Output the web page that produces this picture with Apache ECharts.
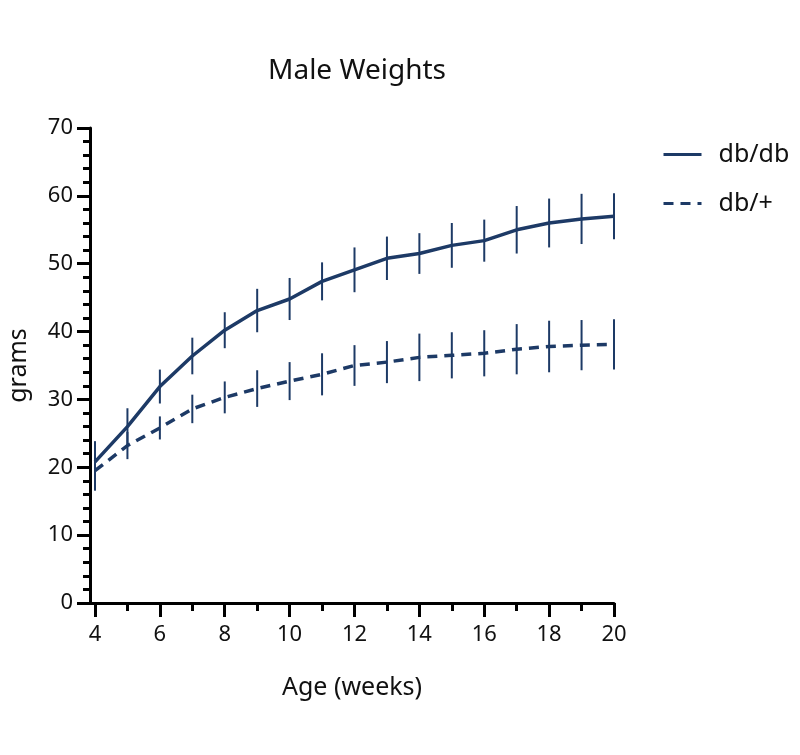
<!DOCTYPE html>
<html>
<head>
<meta charset="utf-8">
<script src="https://cdn.jsdelivr.net/npm/echarts@6/dist/echarts.min.js"></script>
<style>html,body{margin:0;padding:0;background:#fff}#chart{width:800px;height:755px}</style>
</head>
<body>
<div id="chart"></div>
<script>
const weeks = [4,5,6,7,8,9,10,11,12,13,14,15,16,17,18,19,20];
const dbdbMean = [20.8,26.0,31.9,36.4,40.2,43.1,44.8,47.4,49.1,50.8,51.5,52.7,53.4,55.0,56.0,56.6,57.0];
const dbdbErr  = [3.05,2.7,2.5,2.7,2.65,3.2,3.1,2.8,3.3,3.2,3.0,3.3,3.1,3.5,3.6,3.7,3.4];
const dbplusMean = [19.5,23.2,25.8,28.6,30.3,31.6,32.7,33.7,35.0,35.5,36.2,36.5,36.8,37.4,37.8,38.0,38.1];
const dbplusErr  = [2.95,2.0,1.7,2.1,2.35,2.7,2.8,3.1,3.0,3.1,3.5,3.4,3.4,3.7,3.8,3.7,3.7];
const xMajorTicks = [4,6,8,10,12,14,16,18,20];
const xMinorTicks = [5,7,9,11,13,15,17,19];
const seriesNames = ['db/db','db/+'];

const COLOR = '#1d3a66';
const FONT = 'Noto Sans';

function errData(mean, err){
  return weeks.map((w,i)=>[w, mean[i]-err[i], mean[i]+err[i]]);
}
function errSeries(mean, err){
  return {
    type:'custom',
    data: errData(mean, err),
    z: 3,
    silent: true,
    renderItem: function(params, api){
      const lo = api.coord([api.value(0), api.value(1)]);
      const hi = api.coord([api.value(0), api.value(2)]);
      return {type:'line', shape:{x1:lo[0],y1:lo[1],x2:hi[0],y2:hi[1]}, style:{stroke:COLOR, lineWidth:2}};
    }
  };
}

const chart = echarts.init(document.getElementById('chart'));
chart.setOption({
  animation:false,
  textStyle:{fontFamily:FONT},
  title:{text:'Male Weights', left:352, top:52, textAlign:'center',
    textStyle:{fontFamily:FONT, fontSize:28, fontWeight:'normal', color:'#111'}},
  legend:{
    orient:'vertical', left:657, top:137, itemWidth:38, itemHeight:16, itemGap:24,
    data: seriesNames,
    itemStyle:{opacity:0},
    lineStyle:{width:3},
    textStyle:{fontFamily:FONT, fontSize:25, color:'#111', padding:[0,0,0,12]}
  },
  grid:{left:90, right:186, top:128, bottom:152, containLabel:false, outerBoundsMode:'none'},
  xAxis:[{
    type:'value', min:3.846, max:20,
    name:'Age (weeks)', nameLocation:'middle', nameGap:72,
    nameTextStyle:{fontFamily:FONT, fontSize:25, color:'#111'},
    axisLine:{show:true, lineStyle:{color:'#000', width:3}},
    axisTick:{show:true, length:14, lineStyle:{color:'#000', width:3}, customValues: xMajorTicks},
    axisLabel:{show:true, margin:21, fontSize:22, color:'#111', fontFamily:FONT, customValues: xMajorTicks},
    splitLine:{show:false}
  },{
    type:'value', min:3.846, max:20, position:'bottom',
    axisLine:{show:false},
    axisTick:{show:true, length:8, lineStyle:{color:'#000', width:3}, customValues: xMinorTicks},
    axisLabel:{show:false},
    splitLine:{show:false}
  }],
  yAxis:{
    type:'value', min:0, max:70, interval:10,
    name:'grams', nameLocation:'middle', nameGap:59, nameRotate:90,
    nameTextStyle:{fontFamily:FONT, fontSize:25, color:'#111'},
    axisLine:{show:true, lineStyle:{color:'#000', width:3}},
    axisTick:{show:true, length:13, lineStyle:{color:'#000', width:3}},
    minorTick:{show:true, splitNumber:5, length:7, lineStyle:{color:'#000', width:3}},
    axisLabel:{margin:17, fontSize:22, color:'#111', fontFamily:FONT},
    splitLine:{show:false}
  },
  series:[
    {name:seriesNames[0], type:'line', data: weeks.map((w,i)=>[w, dbdbMean[i]]), symbol:'none',
      lineStyle:{color:COLOR, width:3.5}, itemStyle:{color:COLOR}, z:2},
    {name:seriesNames[1], type:'line', data: weeks.map((w,i)=>[w, dbplusMean[i]]), symbol:'none',
      lineStyle:{color:COLOR, width:3.5, type:[10,7]}, itemStyle:{color:COLOR}, z:2},
    errSeries(dbdbMean, dbdbErr),
    errSeries(dbplusMean, dbplusErr)
  ]
});
</script>
</body>
</html>
